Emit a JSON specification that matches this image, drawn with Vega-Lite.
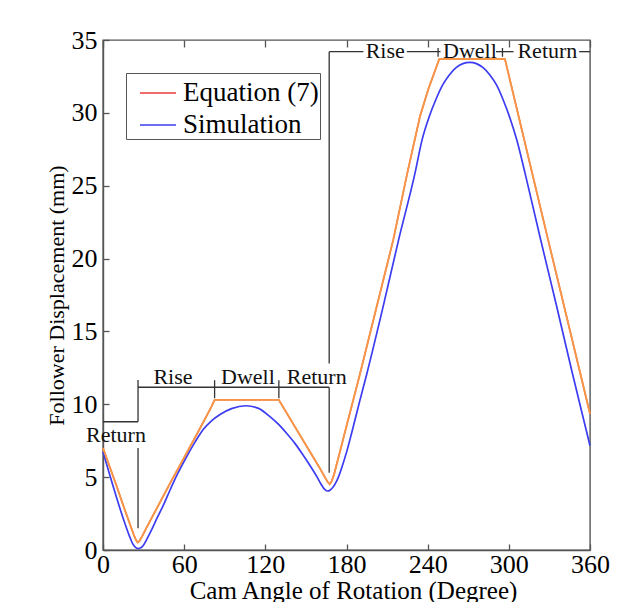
{
  "$schema": "https://vega.github.io/schema/vega-lite/v6.json",
  "width": 487,
  "height": 510,
  "autosize": "none",
  "padding": {"left": 103, "top": 40, "right": 47, "bottom": 52},
  "background": "white",
  "config": {
    "view": {"stroke": "#555555", "strokeWidth": 1.4},
    "font": "Liberation Serif",
    "axis": {"grid": false, "domainColor": "#555555", "tickColor": "#555555", "domainWidth": 1.4, "tickWidth": 1.3}
  },
  "datasets": {
    "equation": [
      {"angle": 0, "disp": 7.0, "series": "Equation (7)"},
      {"angle": 5, "disp": 5.7, "series": "Equation (7)"},
      {"angle": 10, "disp": 4.4, "series": "Equation (7)"},
      {"angle": 15, "disp": 3.05, "series": "Equation (7)"},
      {"angle": 20, "disp": 1.75, "series": "Equation (7)"},
      {"angle": 22.5, "disp": 1.1, "series": "Equation (7)"},
      {"angle": 24.3, "disp": 0.7, "series": "Equation (7)"},
      {"angle": 25.6, "disp": 0.52, "series": "Equation (7)"},
      {"angle": 27, "disp": 0.62, "series": "Equation (7)"},
      {"angle": 29, "disp": 0.95, "series": "Equation (7)"},
      {"angle": 32, "disp": 1.5, "series": "Equation (7)"},
      {"angle": 40, "disp": 2.9, "series": "Equation (7)"},
      {"angle": 50, "disp": 4.65, "series": "Equation (7)"},
      {"angle": 60, "disp": 6.35, "series": "Equation (7)"},
      {"angle": 70, "disp": 8.05, "series": "Equation (7)"},
      {"angle": 80, "disp": 9.8, "series": "Equation (7)"},
      {"angle": 82.5, "disp": 10.3, "series": "Equation (7)"},
      {"angle": 130, "disp": 10.3, "series": "Equation (7)"},
      {"angle": 140, "disp": 8.75, "series": "Equation (7)"},
      {"angle": 150, "disp": 7.2, "series": "Equation (7)"},
      {"angle": 160, "disp": 5.66, "series": "Equation (7)"},
      {"angle": 164, "disp": 5.0, "series": "Equation (7)"},
      {"angle": 166, "disp": 4.68, "series": "Equation (7)"},
      {"angle": 167.5, "disp": 4.52, "series": "Equation (7)"},
      {"angle": 169, "disp": 4.7, "series": "Equation (7)"},
      {"angle": 171, "disp": 5.25, "series": "Equation (7)"},
      {"angle": 176.4, "disp": 7.2, "series": "Equation (7)"},
      {"angle": 190, "disp": 12.1, "series": "Equation (7)"},
      {"angle": 202.3, "disp": 16.7, "series": "Equation (7)"},
      {"angle": 214.6, "disp": 21.3, "series": "Equation (7)"},
      {"angle": 224.9, "disp": 25.85, "series": "Equation (7)"},
      {"angle": 234.3, "disp": 29.75, "series": "Equation (7)"},
      {"angle": 240.4, "disp": 31.6, "series": "Equation (7)"},
      {"angle": 248.6, "disp": 33.7, "series": "Equation (7)"},
      {"angle": 297.1, "disp": 33.7, "series": "Equation (7)"},
      {"angle": 329, "disp": 21.3, "series": "Equation (7)"},
      {"angle": 360, "disp": 9.35, "series": "Equation (7)"}
    ],
    "simulation": [
      {"angle": 0, "disp": 6.75, "series": "Simulation"},
      {"angle": 5, "disp": 5.15, "series": "Simulation"},
      {"angle": 10, "disp": 3.6, "series": "Simulation"},
      {"angle": 15, "disp": 2.15, "series": "Simulation"},
      {"angle": 20, "disp": 0.85, "series": "Simulation"},
      {"angle": 22, "disp": 0.42, "series": "Simulation"},
      {"angle": 24, "disp": 0.18, "series": "Simulation"},
      {"angle": 26, "disp": 0.1, "series": "Simulation"},
      {"angle": 28, "disp": 0.15, "series": "Simulation"},
      {"angle": 30, "disp": 0.35, "series": "Simulation"},
      {"angle": 33, "disp": 0.85, "series": "Simulation"},
      {"angle": 36, "disp": 1.4, "series": "Simulation"},
      {"angle": 40, "disp": 2.2, "series": "Simulation"},
      {"angle": 45, "disp": 3.15, "series": "Simulation"},
      {"angle": 49.5, "disp": 4.1, "series": "Simulation"},
      {"angle": 55, "disp": 5.2, "series": "Simulation"},
      {"angle": 61.8, "disp": 6.4, "series": "Simulation"},
      {"angle": 68, "disp": 7.4, "series": "Simulation"},
      {"angle": 74.2, "disp": 8.28, "series": "Simulation"},
      {"angle": 80, "disp": 8.85, "series": "Simulation"},
      {"angle": 86.5, "disp": 9.3, "series": "Simulation"},
      {"angle": 95, "disp": 9.7, "series": "Simulation"},
      {"angle": 105.7, "disp": 9.9, "series": "Simulation"},
      {"angle": 115, "disp": 9.72, "series": "Simulation"},
      {"angle": 123.4, "disp": 9.15, "series": "Simulation"},
      {"angle": 130, "disp": 8.6, "series": "Simulation"},
      {"angle": 135.8, "disp": 8.0, "series": "Simulation"},
      {"angle": 142, "disp": 7.3, "series": "Simulation"},
      {"angle": 148, "disp": 6.5, "series": "Simulation"},
      {"angle": 153, "disp": 5.8, "series": "Simulation"},
      {"angle": 158, "disp": 5.05, "series": "Simulation"},
      {"angle": 161, "disp": 4.55, "series": "Simulation"},
      {"angle": 163.5, "disp": 4.2, "series": "Simulation"},
      {"angle": 166, "disp": 4.05, "series": "Simulation"},
      {"angle": 168, "disp": 4.12, "series": "Simulation"},
      {"angle": 170, "disp": 4.3, "series": "Simulation"},
      {"angle": 172, "disp": 4.6, "series": "Simulation"},
      {"angle": 174, "disp": 5.0, "series": "Simulation"},
      {"angle": 177, "disp": 5.8, "series": "Simulation"},
      {"angle": 180, "disp": 6.7, "series": "Simulation"},
      {"angle": 184, "disp": 8.1, "series": "Simulation"},
      {"angle": 190, "disp": 10.3, "series": "Simulation"},
      {"angle": 194.9, "disp": 12.05, "series": "Simulation"},
      {"angle": 207.2, "disp": 16.75, "series": "Simulation"},
      {"angle": 218.3, "disp": 21.2, "series": "Simulation"},
      {"angle": 230.6, "disp": 25.85, "series": "Simulation"},
      {"angle": 236, "disp": 28.2, "series": "Simulation"},
      {"angle": 241, "disp": 29.7, "series": "Simulation"},
      {"angle": 246, "disp": 30.9, "series": "Simulation"},
      {"angle": 251, "disp": 31.9, "series": "Simulation"},
      {"angle": 256, "disp": 32.6, "series": "Simulation"},
      {"angle": 261, "disp": 33.1, "series": "Simulation"},
      {"angle": 266, "disp": 33.38, "series": "Simulation"},
      {"angle": 271.2, "disp": 33.47, "series": "Simulation"},
      {"angle": 276, "disp": 33.38, "series": "Simulation"},
      {"angle": 281, "disp": 33.1, "series": "Simulation"},
      {"angle": 286, "disp": 32.6, "series": "Simulation"},
      {"angle": 291, "disp": 31.9, "series": "Simulation"},
      {"angle": 296, "disp": 30.85, "series": "Simulation"},
      {"angle": 301, "disp": 29.6, "series": "Simulation"},
      {"angle": 306, "disp": 28.1, "series": "Simulation"},
      {"angle": 311.9, "disp": 25.9, "series": "Simulation"},
      {"angle": 323, "disp": 21.5, "series": "Simulation"},
      {"angle": 335.3, "disp": 16.75, "series": "Simulation"},
      {"angle": 346.4, "disp": 12.35, "series": "Simulation"},
      {"angle": 358.7, "disp": 7.65, "series": "Simulation"},
      {"angle": 360, "disp": 7.15, "series": "Simulation"}
    ],
    "brackets": [
      {"a1": 0, "a2": 25.9, "d1": 8.8, "d2": 8.8},
      {"a1": 25.9, "a2": 25.9, "d1": 8.8, "d2": 11.67},
      {"a1": 25.9, "a2": 25.9, "d1": 1.5, "d2": 7.0},
      {"a1": 25.9, "a2": 167.2, "d1": 11.17, "d2": 11.17},
      {"a1": 82.5, "a2": 82.5, "d1": 10.42, "d2": 11.65},
      {"a1": 130, "a2": 130, "d1": 10.42, "d2": 11.65},
      {"a1": 167.2, "a2": 167.2, "d1": 5.3, "d2": 11.17},
      {"a1": 167.2, "a2": 167.2, "d1": 12.8, "d2": 34.2},
      {"a1": 167.2, "a2": 192.5, "d1": 34.2, "d2": 34.2},
      {"a1": 224.6, "a2": 249.5, "d1": 34.2, "d2": 34.2},
      {"a1": 247.7, "a2": 247.7, "d1": 33.85, "d2": 34.45},
      {"a1": 290.5, "a2": 303.5, "d1": 34.2, "d2": 34.2},
      {"a1": 295.3, "a2": 295.3, "d1": 33.85, "d2": 34.45},
      {"a1": 352, "a2": 360, "d1": 34.2, "d2": 34.2}
    ],
    "labels": [
      {"label": "Return", "a": 9.6, "d": 7.9},
      {"label": "Rise", "a": 51.7, "d": 11.9},
      {"label": "Dwell", "a": 107.1, "d": 11.9},
      {"label": "Return", "a": 158.0, "d": 11.9},
      {"label": "Rise", "a": 208.6, "d": 34.25},
      {"label": "Dwell", "a": 271.2, "d": 34.25},
      {"label": "Return", "a": 328.5, "d": 34.25}
    ]
  },
  "resolve": {"axis": {"x": "independent"}},
  "layer": [
    {
      "data": {"name": "equation"},
      "mark": {"type": "line", "strokeWidth": 1.4, "interpolate": "linear"},
      "encoding": {
        "x": {"field": "angle", "type": "quantitative", "scale": {"domain": [0, 360], "nice": false},
          "axis": {"orient": "bottom", "values": [0, 60, 120, 180, 240, 300, 360], "tickSize": -6, "labelPadding": 7,
            "labelFont": "Liberation Serif", "labelFontSize": 26, "labelColor": "#000000", "labelFlush": false,
            "title": "Cam Angle of Rotation (Degree)", "titleFont": "Liberation Serif", "titleFontSize": 25,
            "titleFontWeight": "normal", "titleColor": "#000000", "titlePadding": 1, "titleX": 250}},
        "y": {"field": "disp", "type": "quantitative", "scale": {"domain": [0, 35], "nice": false},
          "axis": {"orient": "left", "values": [0, 5, 10, 15, 20, 25, 30, 35], "tickSize": -6, "labelPadding": 12,
            "labelFont": "Liberation Serif", "labelFontSize": 26, "labelColor": "#000000", "labelFlush": false,
            "title": "Follower Displacement (mm)", "titleFont": "Liberation Serif", "titleFontSize": 22,
            "titleFontWeight": "normal", "titleColor": "#000000", "titlePadding": 3}},
        "color": {"field": "series", "type": "nominal",
          "scale": {"domain": ["Equation (7)", "Simulation"], "range": ["#ee3a3a", "#3c3cf0"]},
          "legend": {"orient": "none", "legendX": 23, "legendY": 33, "title": null, "direction": "vertical",
            "strokeColor": "#555555", "fillColor": "#ffffff", "padding": 1,
            "symbolType": "stroke", "symbolSize": 1296, "symbolStrokeWidth": 1.5, "symbolOffset": 12,
            "labelFont": "Liberation Serif", "labelFontSize": 27, "labelColor": "#000000", "labelOffset": 6,
            "rowPadding": -7, "labelLimit": 300}}
      }
    },
    {
      "data": {"name": "simulation"},
      "mark": {"type": "line", "strokeWidth": 1.7, "interpolate": "monotone"},
      "encoding": {
        "x": {"field": "angle", "type": "quantitative", "axis": null},
        "y": {"field": "disp", "type": "quantitative"},
        "color": {"field": "series", "type": "nominal"}
      }
    },
    {
      "data": {"name": "equation"},
      "mark": {"type": "line", "strokeWidth": 1.9, "interpolate": "linear", "color": "#f79646"},
      "encoding": {
        "x": {"field": "angle", "type": "quantitative", "axis": null},
        "y": {"field": "disp", "type": "quantitative"}
      }
    },
    {
      "data": {"name": "brackets"},
      "mark": {"type": "rule", "color": "#333333", "strokeWidth": 1.3},
      "encoding": {
        "x": {"field": "a1", "type": "quantitative",
          "axis": {"orient": "top", "values": [0, 60, 120, 180, 240, 300, 360], "labels": false, "tickSize": -7,
            "domain": false, "title": null}},
        "x2": {"field": "a2"},
        "y": {"field": "d1", "type": "quantitative"},
        "y2": {"field": "d2"}
      }
    },
    {
      "data": {"name": "labels"},
      "mark": {"type": "text", "font": "Liberation Serif", "fontSize": 22, "color": "#111111", "align": "center", "baseline": "middle"},
      "encoding": {
        "x": {"field": "a", "type": "quantitative", "axis": null},
        "y": {"field": "d", "type": "quantitative"},
        "text": {"field": "label"}
      }
    }
  ]
}
